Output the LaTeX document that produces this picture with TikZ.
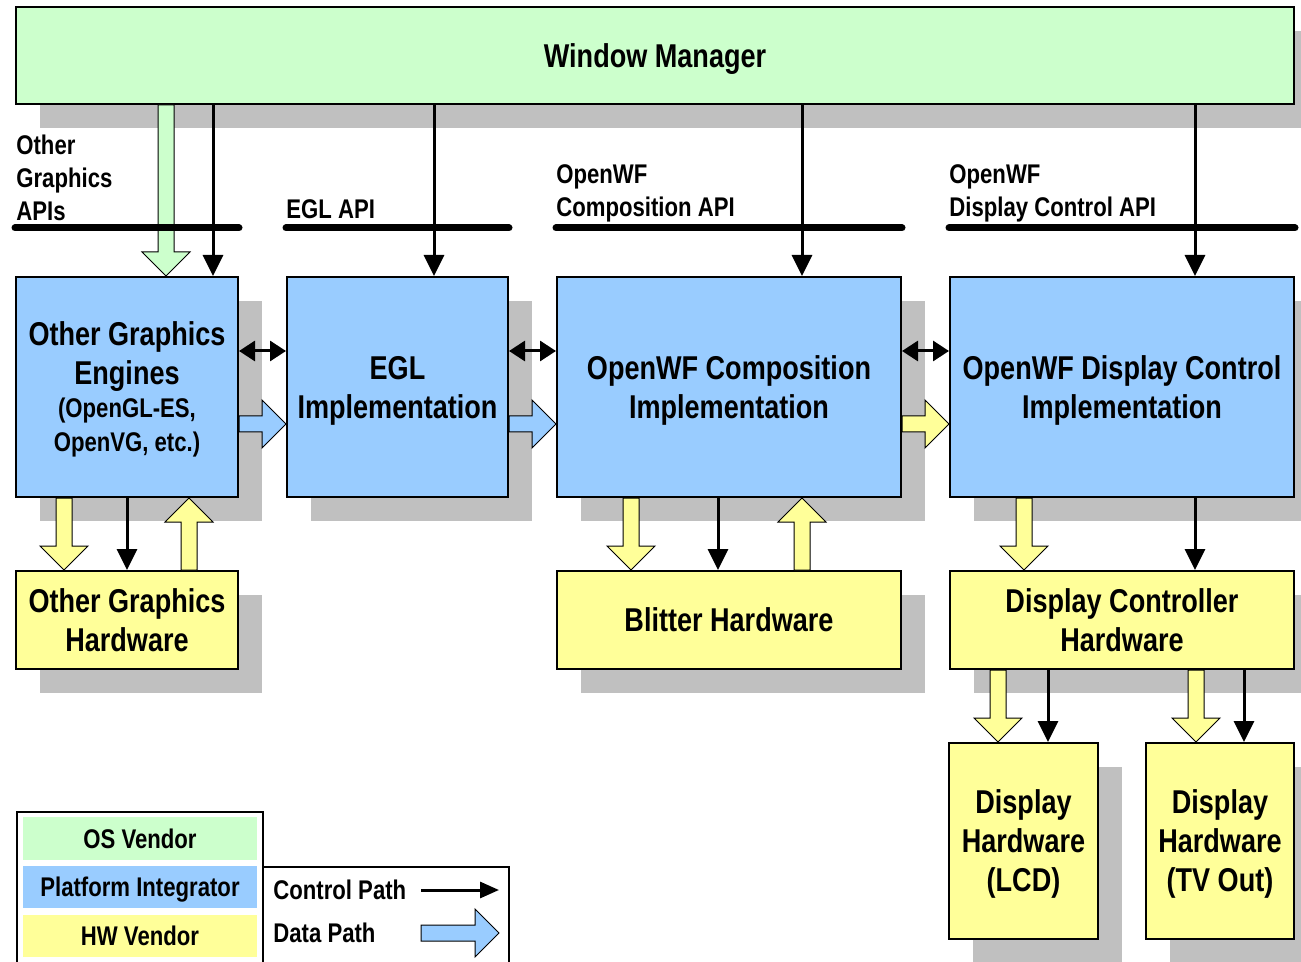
\documentclass[tikz,border=0pt]{standalone}
\usepackage{fontspec}
\setmainfont[FakeStretch=0.82]{Liberation Sans}
\usetikzlibrary{arrows.meta,calc,shadows}

\definecolor{osgreen}{HTML}{CCFFCC}
\definecolor{piblue}{HTML}{99CCFF}
\definecolor{hwyellow}{HTML}{FFFF99}
\definecolor{shadowgray}{HTML}{C0C0C0}

\newcommand\fbig{\fontsize{16.5}{19.5}\selectfont\bfseries}
\newcommand\fsmall{\fontsize{13.5}{16.5}\selectfont\bfseries}

% wide outlined arrow for data paths: #1 start, #2 tip, #3 fill colour
\newcommand\blockarr[3]{%
  \coordinate (ba-h) at ($(#2)!12pt!(#1)$);
  \draw[blockarrow, fill=#3]
    ($(#1)!4pt!90:(#2)$) -- ($(ba-h)!4pt!90:(#2)$) -- ($(ba-h)!12pt!90:(#2)$)
    -- (#2) -- ($(ba-h)!12pt!-90:(#2)$) -- ($(ba-h)!4pt!-90:(#2)$)
    -- ($(#1)!4pt!-90:(#2)$) -- cycle;}

\tikzset{
  box/.style={draw=black, line width=1pt, align=center, font=\fbig, inner sep=2pt,
    text depth=0pt,
    general shadow={fill=shadowgray, draw=none, shadow xshift=12pt, shadow yshift=-12pt}},
  apilabel/.style={font=\fsmall, align=left, inner sep=0pt},
  apibar/.style={line width=3.5pt, line cap=round},
  ctrl/.style={line width=1.5pt, -{Triangle[length=10.5pt,width=10pt]}},
  ctrlboth/.style={line width=1.5pt, {Triangle[length=8pt,width=10pt]}-{Triangle[length=8pt,width=10pt]}},
  blockarrow/.style={draw=black, line width=0.5pt, line join=miter},
  legframe/.style={draw=black, line width=1pt, inner sep=0pt, anchor=north west},
  legitem/.style={fill=#1, draw=none, font=\fsmall, inner sep=0pt, text depth=0pt, minimum width=117pt},
  legtext/.style={font=\fsmall, inner sep=0pt, anchor=west}
}

\begin{document}
\begin{tikzpicture}[x=0.5pt, y=-0.5pt]
\useasboundingbox (0,0) rectangle (1301,962);
\clip (0,0) rectangle (1301,962);

% ---------- boxes ----------
\node[box, fill=osgreen, minimum width=639pt, minimum height=48.5pt] (wm) at (655,55.5) {Window Manager};

\node[box, fill=piblue, minimum width=111pt, minimum height=110pt] (eng) at (127,387)
  {Other Graphics\\Engines\\[-3pt]\fsmall (OpenGL-ES,\\[-2.5pt]\fsmall OpenVG, etc.)};
\node[box, fill=piblue, minimum width=110.5pt, minimum height=110pt] (egl) at (397.5,387)
  {EGL\\Implementation};
\node[box, fill=piblue, minimum width=172pt, minimum height=110pt] (comp) at (729,387)
  {OpenWF Composition\\Implementation};
\node[box, fill=piblue, minimum width=172pt, minimum height=110pt] (dc) at (1122,387)
  {OpenWF Display Control\\Implementation};

\node[box, fill=hwyellow, minimum width=111pt, minimum height=49pt] (ogh) at (127,620)
  {Other Graphics\\Hardware};
\node[box, fill=hwyellow, minimum width=172pt, minimum height=49pt] (blit) at (729,620)
  {Blitter Hardware};
\node[box, fill=hwyellow, minimum width=172pt, minimum height=49pt] (dch) at (1122,620)
  {Display Controller\\Hardware};
\node[box, fill=hwyellow, minimum width=74.5pt, minimum height=98pt] (lcd) at (1023.5,841)
  {Display\\Hardware\\(LCD)};
\node[box, fill=hwyellow, minimum width=74pt, minimum height=98pt] (tv) at (1220,841)
  {Display\\Hardware\\(TV Out)};

% ---------- API labels ----------
\node[apilabel, anchor=north west] (api-other) at (16,135) {Other\\Graphics\\APIs};
\node[apilabel, anchor=base west] (api-egl) at (286,219) {EGL API};
\node[apilabel, anchor=north west] (api-comp) at (556,164) {OpenWF\\Composition API};
\node[apilabel, anchor=north west] (api-dc) at (949,164) {OpenWF\\Display Control API};

% ---------- data paths ----------
\coordinate (g-a) at (166,0 |- wm.south);   \coordinate (g-b) at (166,0 |- eng.north);
\blockarr{g-a}{g-b}{osgreen}

\coordinate (d1-a) at (eng.east |- 0,424);  \coordinate (d1-b) at (egl.west |- 0,424);
\blockarr{d1-a}{d1-b}{piblue}
\coordinate (d2-a) at (egl.east |- 0,424);  \coordinate (d2-b) at (comp.west |- 0,424);
\blockarr{d2-a}{d2-b}{piblue}
\coordinate (d3-a) at (comp.east |- 0,424); \coordinate (d3-b) at (dc.west |- 0,424);
\blockarr{d3-a}{d3-b}{hwyellow}

\coordinate (d4-a) at (64,0 |- eng.south);  \coordinate (d4-b) at (64,0 |- ogh.north);
\blockarr{d4-a}{d4-b}{hwyellow}
\coordinate (d5-a) at (189,0 |- ogh.north); \coordinate (d5-b) at (189,0 |- eng.south);
\blockarr{d5-a}{d5-b}{hwyellow}

\coordinate (d6-a) at (631,0 |- comp.south); \coordinate (d6-b) at (631,0 |- blit.north);
\blockarr{d6-a}{d6-b}{hwyellow}
\coordinate (d7-a) at (802,0 |- blit.north); \coordinate (d7-b) at (802,0 |- comp.south);
\blockarr{d7-a}{d7-b}{hwyellow}

\coordinate (d8-a) at (1024,0 |- dc.south); \coordinate (d8-b) at (1024,0 |- dch.north);
\blockarr{d8-a}{d8-b}{hwyellow}
\coordinate (d9-a) at (998,0 |- dch.south); \coordinate (d9-b) at (998,0 |- lcd.north);
\blockarr{d9-a}{d9-b}{hwyellow}
\coordinate (d10-a) at (1196,0 |- dch.south); \coordinate (d10-b) at (1196,0 |- tv.north);
\blockarr{d10-a}{d10-b}{hwyellow}

% ---------- control paths ----------
\draw[ctrl] (213,0 |- wm.south) -- (213,0 |- eng.north);
\draw[ctrl] (434,0 |- wm.south) -- (434,0 |- egl.north);
\draw[ctrl] (802,0 |- wm.south) -- (802,0 |- comp.north);
\draw[ctrl] (1195,0 |- wm.south) -- (1195,0 |- dc.north);

\draw[ctrlboth] (eng.east |- 0,351) -- (egl.west |- 0,351);
\draw[ctrlboth] (egl.east |- 0,351) -- (comp.west |- 0,351);
\draw[ctrlboth] (comp.east |- 0,351) -- (dc.west |- 0,351);

\draw[ctrl] (127,0 |- eng.south) -- (127,0 |- ogh.north);
\draw[ctrl] (718,0 |- comp.south) -- (718,0 |- blit.north);
\draw[ctrl] (1195,0 |- dc.south) -- (1195,0 |- dch.north);
\draw[ctrl] (1048,0 |- dch.south) -- (1048,0 |- lcd.north);
\draw[ctrl] (1244,0 |- dch.south) -- (1244,0 |- tv.north);

% ---------- API bars ----------
\draw[apibar] (eng.west |- 0,228) -- (eng.east |- 0,228);
\draw[apibar] (egl.west |- 0,228) -- (egl.east |- 0,228);
\draw[apibar] (comp.west |- 0,228) -- (comp.east |- 0,228);
\draw[apibar] (dc.west |- 0,228) -- (dc.east |- 0,228);

% ---------- legend ----------
\node[legframe, minimum width=123pt, minimum height=82pt] (leg-roles) at (16,811) {};
\node[legframe, minimum width=123pt, minimum height=55pt] (leg-paths) at (262,866) {};
\node[legitem=osgreen, minimum height=21.5pt] (leg-os) at (140,838.5) {OS Vendor};
\node[legitem=piblue, minimum height=21pt] (leg-pi) at (140,887) {Platform Integrator};
\node[legitem=hwyellow, minimum height=21pt] (leg-hw) at (140,936) {HW Vendor};

\node[legtext] (leg-ctrl) at (273,890) {Control Path};
\node[legtext] (leg-data) at (273,933) {Data Path};
\coordinate (lc-a) at (421,890); \coordinate (lc-b) at (499,890);
\draw[ctrl, -{Triangle[length=9.5pt,width=8pt]}] (lc-a) -- (lc-b);
\coordinate (ld-a) at (421,933); \coordinate (ld-b) at (499,933);
\blockarr{ld-a}{ld-b}{piblue}
\end{tikzpicture}
\end{document}
